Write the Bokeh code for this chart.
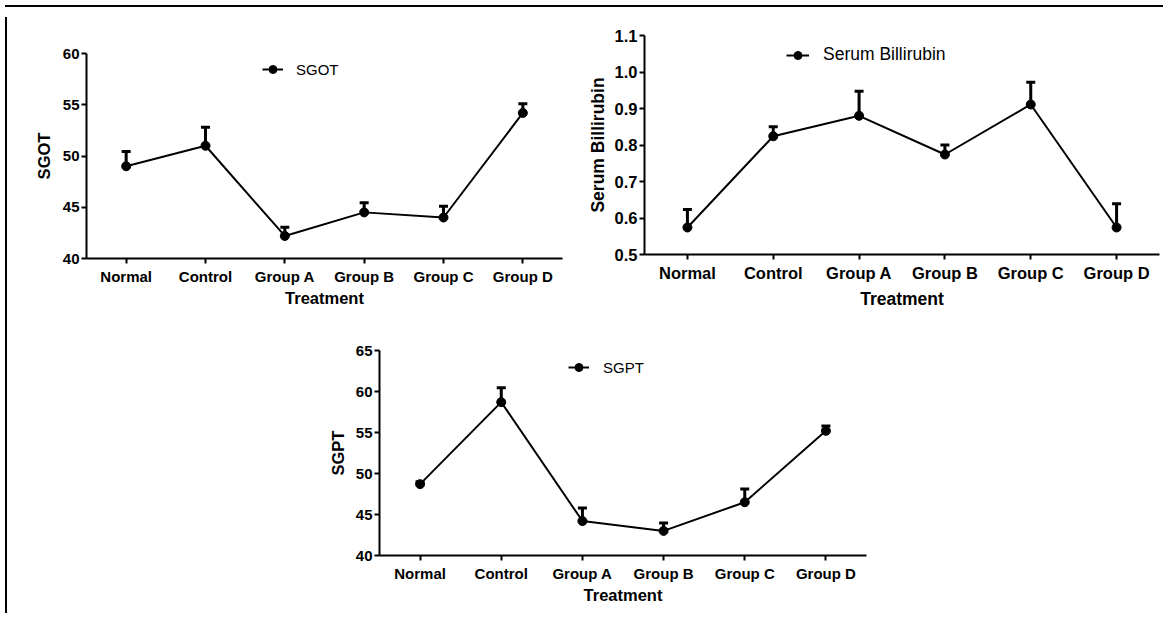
from bokeh.plotting import figure
from bokeh.models import (FactorRange, Range1d, FixedTicker, Legend, LegendItem,
                          Whisker, TeeHead, ColumnDataSource, Div, Spacer,
                          NumeralTickFormatter)
from bokeh.layouts import row, column
from bokeh.embed import file_html
from bokeh.resources import INLINE

# ---------------- data ----------------
categories = ["Normal", "Control", "Group A", "Group B", "Group C", "Group D"]

sgot_mean = [49.0, 51.0, 42.2, 44.5, 44.0, 54.2]
sgot_err = [1.45, 1.8, 0.85, 0.95, 1.1, 0.9]
sgot_ticks = [40, 45, 50, 55, 60]

bili_mean = [0.574, 0.824, 0.880, 0.774, 0.911, 0.574]
bili_err = [0.049, 0.026, 0.067, 0.026, 0.061, 0.065]
bili_ticks = [0.5, 0.6, 0.7, 0.8, 0.9, 1.0, 1.1]

sgpt_mean = [48.7, 58.7, 44.2, 43.0, 46.5, 55.2]
sgpt_err = [0.3, 1.75, 1.6, 0.95, 1.6, 0.6]
sgpt_ticks = [40, 45, 50, 55, 60, 65]

FONT = "Liberation Sans"


def make_chart(mean, err, name, ticks, fmt, width, height, borders,
               tick_fs, title_fs, legend_fs, legend_loc, glyph_w, standoff,
               ylab_standoff, xlab_standoff):
    bl, br, bt, bb = borders
    p = figure(x_range=FactorRange(*categories, range_padding=0),
               y_range=Range1d(ticks[0], ticks[-1]),
               width=width, height=height, output_backend="svg",
               toolbar_location=None, min_border_left=bl, min_border_right=br,
               min_border_top=bt, min_border_bottom=bb)
    p.frame_align = False
    p.outline_line_color = None
    p.xgrid.visible = False
    p.ygrid.visible = False
    p.background_fill_color = "white"
    p.border_fill_color = "white"

    src = ColumnDataSource(dict(x=categories, y=mean,
                                upper=[m + e for m, e in zip(mean, err)],
                                lower=mean))
    wh = Whisker(base="x", upper="upper", lower="lower", source=src,
                 dimension="height", line_width=3, line_color="black",
                 upper_head=TeeHead(size=9, line_width=3, line_color="black"),
                 lower_head=None, level="glyph")
    p.add_layout(wh)
    ln = p.line("x", "y", source=src, line_width=2, line_color="black")
    sc = p.scatter("x", "y", source=src, size=9, fill_color="black",
                   line_color="black")

    for ax in (p.xaxis[0], p.yaxis[0]):
        ax.axis_line_width = 2
        ax.major_tick_line_width = 2
        ax.major_tick_out = 5
        ax.major_tick_in = 0
        ax.minor_tick_line_color = None
        ax.major_label_text_font = FONT
        ax.major_label_text_font_style = "bold"
        ax.major_label_text_font_size = tick_fs
        ax.major_label_text_color = "black"
        ax.axis_label_text_font = FONT
        ax.axis_label_text_font_style = "bold"
        ax.axis_label_text_font_size = title_fs
        ax.axis_label_text_color = "black"
        ax.axis_line_color = "black"
        ax.major_tick_line_color = "black"

    p.xaxis.axis_label = "Treatment"
    p.xaxis.major_label_standoff = 4
    p.xaxis.axis_label_standoff = xlab_standoff
    p.yaxis.axis_label = name
    p.yaxis.ticker = FixedTicker(ticks=ticks)
    p.yaxis.formatter = NumeralTickFormatter(format=fmt)
    p.yaxis.major_label_standoff = 2
    p.yaxis.axis_label_standoff = ylab_standoff

    legend = Legend(items=[LegendItem(label=name, renderers=[ln, sc])],
                    location=legend_loc, padding=0, margin=0, spacing=0,
                    border_line_alpha=0, background_fill_alpha=0,
                    glyph_width=glyph_w, glyph_height=20, label_height=20,
                    label_standoff=standoff, label_text_font=FONT,
                    label_text_font_size=legend_fs, label_text_color="black")
    p.add_layout(legend)
    return p


p1 = make_chart(sgot_mean, sgot_err, "SGOT", sgot_ticks, "0",
                572, 299, (74, 22, 41, 53), "15px", "16.5px", "15px",
                (176, 179), 21, 13, 7, 1)
p2 = make_chart(bili_mean, bili_err, "Serum Billirubin", bili_ticks, "0.0",
                584, 299, (60, 9, 23, 57), "16.5px", "17.5px", "17.5px",
                (142, 189), 23, 14, 4, 4)
p3 = make_chart(sgpt_mean, sgpt_err, "SGPT", sgpt_ticks, "0",
                567, 297, (60, 20, 39, 53), "15px", "16.5px", "15px",
                (189, 178), 21, 14, 6, 1)

top_line = Div(width=1158, height=2, styles={"background-color": "black"})
left_line = Div(width=2, height=596, styles={"background-color": "black"})
body = column(row(p1, p2), row(Spacer(width=307, height=297), p3))
layout = column(top_line, row(left_line, body))

open("out.html", "w").write(file_html(layout, INLINE))
